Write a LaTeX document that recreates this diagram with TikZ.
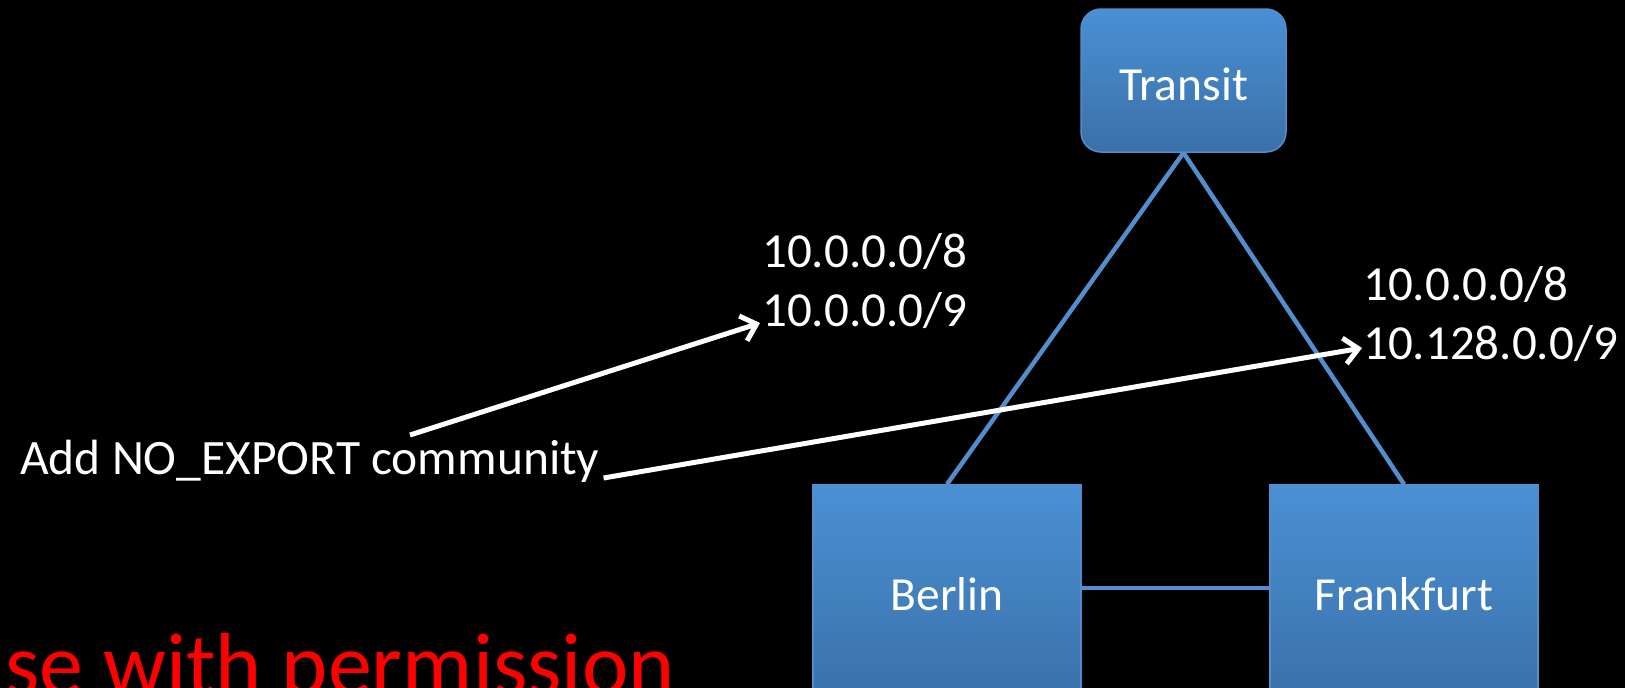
\documentclass[tikz,border=0pt]{standalone}
\usepackage{fontspec}
\setmainfont{Carlito}
\usetikzlibrary{arrows.meta}
\definecolor{boxtop}{RGB}{74,144,212}
\definecolor{boxbot}{RGB}{58,112,168}
\definecolor{boxline}{RGB}{84,141,204}
\definecolor{linkblue}{RGB}{84,141,204}
\begin{document}
\begin{tikzpicture}[x=1pt,y=-1pt,
  router/.style={draw=boxline, line width=1.5pt, top color=boxtop, bottom color=boxbot,
    text=white, font=\fontsize{47.5}{57}\selectfont, inner sep=0pt},
  link/.style={draw=linkblue, line width=4.5pt},
  lbl/.style={text=white, font=\fontsize{49}{59}\selectfont, inner sep=0pt, anchor=base west},
  callout/.style={draw=white, line width=5pt, -{Straight Barb[length=14pt,width=26pt]}}]
\useasboundingbox (0,0) rectangle (1625,688);
\fill[black] (0,0) rectangle (1625,688);
\clip (0,0) rectangle (1625,688);
% routers
\node[router, rounded corners=20pt, minimum width=205pt, minimum height=143pt,
      text height=40pt, text depth=0pt] (transit) at (1183.5,80.5) {Transit};
\node[router, minimum width=268pt, minimum height=218pt] (berlin) at (947,594) {Berlin};
\node[router, minimum width=268pt, minimum height=218pt] (frankfurt) at (1404,594) {Frankfurt};
% links
\draw[link] (transit.south) -- (berlin.north);
\draw[link] (transit.south) -- (frankfurt.north);
\draw[link] ([yshift=6pt]berlin.east) -- ([yshift=6pt]frankfurt.west);
% labels
\node[lbl] (l1a) at (762,267) {10.0.0.0/8};
\node[lbl] (l1b) at (762,326) {10.0.0.0/9};
\node[lbl] (l2a) at (1363,300) {10.0.0.0/8};
\node[lbl] (l2b) at (1363,359) {10.128.0.0/9};
\node[lbl, font=\fontsize{49.5}{59}\selectfont] (note) at (20,474) {Add NO\_EXPORT community};
\node[text=red, font=\fontsize{88}{104}\selectfont, inner sep=0pt, anchor=base west] (perm) at (5,694) {se with permission};
% callouts
\coordinate (s1) at (410,435);
\draw[callout] (s1) -- ([xshift=-2pt,yshift=3pt]l1b.base west);
\draw[callout] ([xshift=4pt,yshift=-4pt]note.base east) -- ([xshift=-1pt,yshift=11pt]l2b.base west);
\end{tikzpicture}
\end{document}
